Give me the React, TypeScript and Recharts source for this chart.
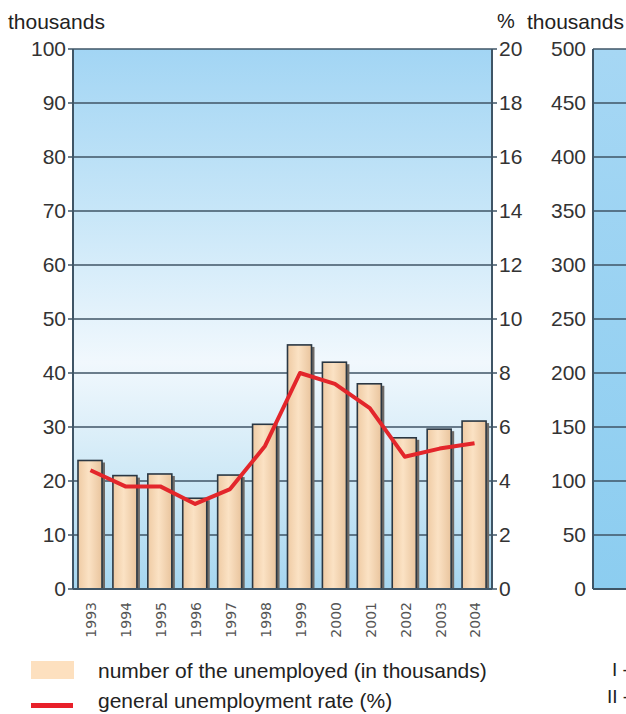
import React from 'react'
import { ComposedChart, Bar, Line, XAxis, YAxis, CartesianGrid } from 'recharts'

const years = ['1993', '1994', '1995', '1996', '1997', '1998', '1999', '2000', '2001', '2002', '2003', '2004']
const unemployed = [23.8, 21, 21.3, 16.8, 21.1, 30.5, 45.2, 42, 38, 28, 29.6, 31.1]
const rate = [4.4, 3.8, 3.8, 3.15, 3.7, 5.3, 8, 7.6, 6.7, 4.9, 5.2, 5.4]

const leftTicks = [0, 10, 20, 30, 40, 50, 60, 70, 80, 90, 100]
const rateTicks = [0, 2, 4, 6, 8, 10, 12, 14, 16, 18, 20]
const rightTicks = [0, 50, 100, 150, 200, 250, 300, 350, 400, 450, 500]
const quarters = ['I', 'II', 'III', 'IV']

const data = years.map((year, i) => ({ year, unemployed: unemployed[i], rate: rate[i] }))
const quarterData = quarters.map((q) => ({ q }))

const FONT = '"Liberation Sans", Arial, sans-serif'
const GRID = '#3f5566'

const BarShape = (props: any) => {
  const { x, y, width, height } = props
  if (!height || height <= 0) return null
  return (
    <g>
      <rect x={x + width} y={y + 2} width={3} height={height - 2} fill="#6e6a66" />
      <rect x={x} y={y} width={width} height={height} fill="url(#barFill)" stroke="#2a3743" strokeWidth={1.6} />
    </g>
  )
}

const YearTick = (props: any) => {
  const { x, y, payload } = props
  return (
    <text
      transform={`translate(${x + 1},${y + 5}) rotate(-90)`}
      textAnchor="end"
      dy="0.35em"
      fontSize={14}
      fontFamily='"DejaVu Sans", sans-serif'
      fill="#555"
    >
      {payload.value}
    </text>
  )
}

const tickStyle = { fontSize: 21, fill: '#333', fontFamily: FONT }

const label = (left: number, top: number, size: number): React.CSSProperties => ({
  position: 'absolute',
  left,
  top,
  fontSize: size,
  lineHeight: 1,
  whiteSpace: 'nowrap',
})

export default function App() {
  return (
    <div
      style={{
        position: 'absolute',
        left: 0,
        top: 0,
        width: 626,
        height: 714,
        overflow: 'hidden',
        background: '#fff',
        fontFamily: FONT,
        color: '#222',
      }}
    >
      <div style={label(8, 11, 21)}>thousands</div>
      <div style={label(497, 11, 20)}>%</div>
      <div style={label(527, 11, 21)}>thousands</div>

      <div style={{ position: 'absolute', left: 0, top: 0 }}>
        <ComposedChart
          width={540}
          height={640}
          data={data}
          margin={{ top: 49, right: 0, left: 0, bottom: 0 }}
          barCategoryGap={5}
        >
          <defs>
            <linearGradient id="bgLeft" x1="0" y1="0" x2="0" y2="1">
              <stop offset="0%" stopColor="#a2d5f4" />
              <stop offset="30%" stopColor="#c7e6f8" />
              <stop offset="58%" stopColor="#f1f8fd" />
              <stop offset="80%" stopColor="#cde8f6" />
              <stop offset="100%" stopColor="#a6d6f0" />
            </linearGradient>
            <linearGradient id="barFill" x1="0" y1="0" x2="1" y2="0">
              <stop offset="0%" stopColor="#efcba4" />
              <stop offset="45%" stopColor="#fbe2c4" />
              <stop offset="100%" stopColor="#e9c49d" />
            </linearGradient>
          </defs>
          <CartesianGrid
            yAxisId="left"
            vertical={false}
            stroke={GRID}
            strokeWidth={1.5}
            fill="url(#bgLeft)"
            fillOpacity={1}
          />
          <XAxis
            dataKey="year"
            height={51}
            interval={0}
            tick={<YearTick />}
            tickLine={false}
            axisLine={{ stroke: GRID, strokeWidth: 2 }}
          />
          <YAxis
            yAxisId="left"
            width={73}
            domain={[0, 100]}
            ticks={leftTicks}
            interval={0}
            tick={tickStyle}
            tickSize={5}
            tickMargin={2}
            tickLine={{ stroke: GRID, strokeWidth: 1.5 }}
            axisLine={{ stroke: GRID, strokeWidth: 2 }}
          />
          <YAxis
            yAxisId="right"
            orientation="right"
            width={48}
            domain={[0, 20]}
            ticks={rateTicks}
            interval={0}
            tick={tickStyle}
            tickSize={5}
            tickMargin={2}
            tickLine={{ stroke: GRID, strokeWidth: 1.5 }}
            axisLine={{ stroke: GRID, strokeWidth: 2 }}
          />
          <Bar
            yAxisId="left"
            dataKey="unemployed"
            barSize={24}
            shape={<BarShape />}
            isAnimationActive={false}
          />
          <Line
            yAxisId="right"
            dataKey="rate"
            type="linear"
            stroke="#e3262b"
            strokeWidth={4}
            dot={false}
            activeDot={false}
            strokeLinejoin="round"
            isAnimationActive={false}
          />
        </ComposedChart>
      </div>

      <div style={{ position: 'absolute', left: 530, top: 0 }}>
        <ComposedChart width={300} height={640} data={quarterData} margin={{ top: 49, right: 0, left: 0, bottom: 0 }}>
          <defs>
            <linearGradient id="bgRight" x1="0" y1="0" x2="0" y2="1">
              <stop offset="0%" stopColor="#a6d7f4" />
              <stop offset="100%" stopColor="#8ccdf0" />
            </linearGradient>
          </defs>
          <CartesianGrid vertical={false} stroke={GRID} strokeWidth={1.5} fill="url(#bgRight)" fillOpacity={1} />
          <XAxis dataKey="q" height={51} tick={false} tickLine={false} axisLine={{ stroke: GRID, strokeWidth: 2 }} />
          <YAxis
            width={63}
            type="number"
            domain={[0, 500]}
            allowDataOverflow
            ticks={rightTicks}
            interval={0}
            tick={tickStyle}
            tickSize={0}
            tickMargin={7}
            axisLine={{ stroke: GRID, strokeWidth: 2 }}
          />
        </ComposedChart>
      </div>

      <div style={{ position: 'absolute', left: 31, top: 661, width: 43, height: 18, background: '#fde0bf' }} />
      <div style={label(98, 660, 21)}>number of the unemployed (in thousands)</div>
      <div style={{ position: 'absolute', left: 31, top: 703, width: 42, height: 5, background: '#e8202a' }} />
      <div style={label(98, 690, 21)}>general unemployment rate (%)</div>
      <div style={label(612, 660, 19)}>I -</div>
      <div style={label(607, 687, 19)}>II -</div>
    </div>
  )
}
